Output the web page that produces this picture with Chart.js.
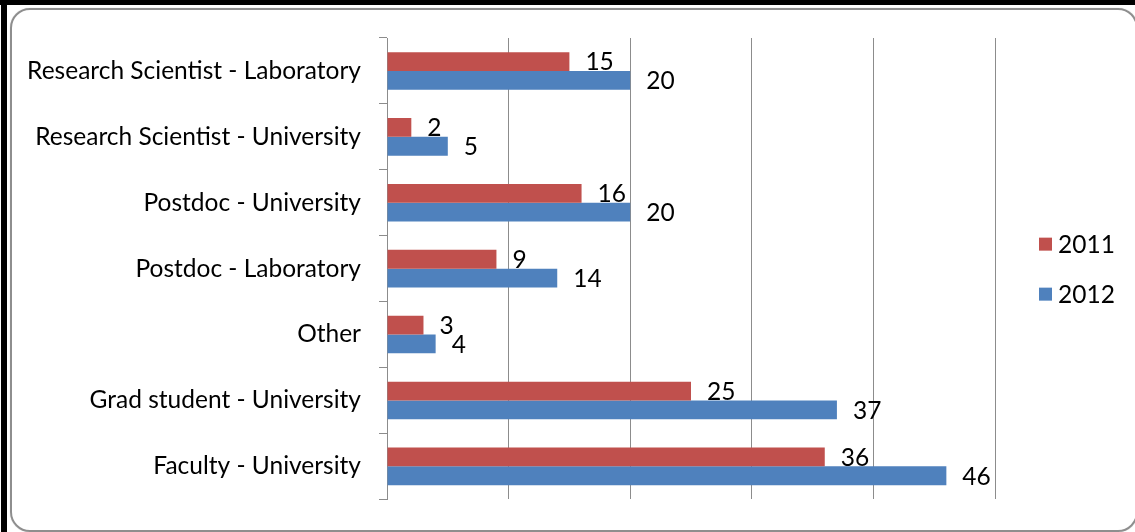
<!DOCTYPE html>
<html>
<head>
<meta charset="utf-8">
<script src="https://cdn.jsdelivr.net/npm/chart.js@4"></script>
<style>
  html, body { margin: 0; padding: 0; background: #fff; }
  #wrap { position: relative; width: 1135px; height: 532px; overflow: hidden; background: #fff; }
  #edgeTop { position: absolute; left: 0; top: 0; width: 1135px; height: 5px; background: #000; }
  #edgeLeft { position: absolute; left: 1px; top: 0; width: 6px; height: 532px; background: #000; }
  #frame {
    position: absolute; left: 10px; top: 8px; width: 1124px; height: 520px;
    border: 2px solid #8e8e8e; border-radius: 20px;
    box-shadow: 0 0 1px #bbb;
  }
  #chart { position: absolute; left: 0; top: 0; }
</style>
</head>
<body>
<div id="wrap">
  <div id="edgeTop"></div>
  <div id="edgeLeft"></div>
  <div id="frame"></div>
  <canvas id="chart" width="1135" height="532"></canvas>
</div>
<script>
"use strict";

const categories = [
  "Research Scientist - Laboratory",
  "Research Scientist - University",
  "Postdoc - University",
  "Postdoc - Laboratory",
  "Other",
  "Grad student - University",
  "Faculty - University"
];
const seriesNames = ["2011", "2012"];
const values2011 = [15, 2, 16, 9, 3, 25, 36];
const values2012 = [20, 5, 20, 14, 4, 37, 46];
const xTicks = [0, 10, 20, 30, 40, 50];

const RED = "#c0504d";
const BLUE = "#4f81bd";
const GRID = "#8c8c8c";
const FONT = "Lato, 'Open Sans', sans-serif";
const FONT_SIZE = 24.5;

// value labels to the right of each bar
const valueLabels = {
  id: "valueLabels",
  afterDatasetsDraw(chart) {
    const ctx = chart.ctx;
    ctx.save();
    ctx.font = FONT_SIZE + "px " + FONT;
    ctx.fillStyle = "#000";
    ctx.textAlign = "left";
    ctx.textBaseline = "middle";
    chart.data.datasets.forEach((ds, i) => {
      chart.getDatasetMeta(i).data.forEach((bar, j) => {
        ctx.fillText(String(ds.data[j]), bar.x + 16, bar.y + 1);
      });
    });
    ctx.restore();
  }
};

// legend on the right, one entry per line
const sideLegend = {
  id: "sideLegend",
  afterDraw(chart) {
    const ctx = chart.ctx;
    const colors = [RED, BLUE];
    const midY = (chart.chartArea.top + chart.chartArea.bottom) / 2;
    ctx.save();
    ctx.font = FONT_SIZE + "px " + FONT;
    ctx.textAlign = "left";
    ctx.textBaseline = "middle";
    seriesNames.forEach((name, i) => {
      const y = midY - 25 + i * 50;
      ctx.fillStyle = colors[i];
      ctx.fillRect(1039, y - 6, 13, 13);
      ctx.fillStyle = "#000";
      ctx.fillText(name, 1058, y + 1);
    });
    ctx.restore();
  }
};

new Chart(document.getElementById("chart"), {
  type: "bar",
  data: {
    labels: categories,
    datasets: [
      { label: seriesNames[0], data: values2011, backgroundColor: RED },
      { label: seriesNames[1], data: values2012, backgroundColor: BLUE }
    ]
  },
  options: {
    indexAxis: "y",
    responsive: false,
    animation: false,
    devicePixelRatio: 1,
    categoryPercentage: 0.57,
    barPercentage: 1.0,
    layout: { padding: { top: 38, bottom: 30, left: 0, right: 140 } },
    plugins: {
      legend: { display: false },
      tooltip: { enabled: false }
    },
    scales: {
      x: {
        min: 0,
        max: 50,
        afterBuildTicks(scale) {
          scale.ticks = xTicks.map((v) => ({ value: v }));
        },
        ticks: { display: false },
        grid: { color: GRID, lineWidth: 1, drawTicks: false },
        border: { display: false },
        afterFit(scale) { scale.height = 0; }
      },
      y: {
        ticks: {
          color: "#000",
          font: { family: FONT, size: FONT_SIZE },
          padding: 18
        },
        grid: {
          drawOnChartArea: false,
          drawTicks: true,
          tickLength: 8,
          color: GRID
        },
        border: { display: true, color: GRID, width: 1 },
        afterFit(scale) { scale.width = 387; }
      }
    }
  },
  plugins: [valueLabels, sideLegend]
});
</script>
</body>
</html>
